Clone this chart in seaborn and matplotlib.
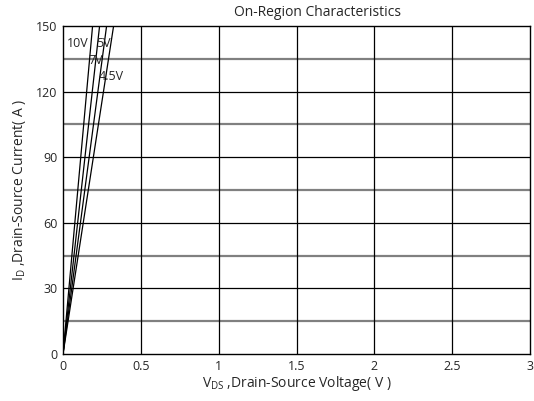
import matplotlib
matplotlib.use("Agg")
import matplotlib.pyplot as plt
import numpy as np
import pandas as pd
import seaborn as sns

# curve data (V_DS in volts, I_D in amps)
gate_labels = ['10V', '7V', '5V', '4.5V']
vds_top = [0.19, 0.235, 0.28, 0.325]
id_points = [0, 150]

# where the curve labels sit
label_x = [0.096, 0.21, 0.26, 0.31]
label_y = [142, 134, 142, 127]

x_ticks = [0, 0.5, 1, 1.5, 2, 2.5, 3]
x_tick_labels = ['0', '0.5', '1', '1.5', '2', '2.5', '3']
y_ticks = [0, 30, 60, 90, 120, 150]

rows = []
for g, xt in zip(gate_labels, vds_top):
    rows.append({'gate': g, 'vds': 0.0, 'id': id_points[0]})
    rows.append({'gate': g, 'vds': xt, 'id': id_points[1]})
df = pd.DataFrame(rows)

sns.set_style('white')
plt.rcParams['font.family'] = ['Open Sans', 'DejaVu Sans']
plt.rcParams['mathtext.default'] = 'regular'

fig = plt.figure(figsize=(5.34, 4.01), dpi=100)
ax = fig.add_axes([63 / 534, 1 - 354 / 401, 467 / 534, 328 / 401])

# grid: black major, gray minor on y
for yv in np.arange(15, 150, 30):
    ax.axhline(yv, color='#808080', lw=1.6, zorder=1)
for yv in y_ticks[1:-1]:
    ax.axhline(yv, color='black', lw=0.9, zorder=1)
for xv in x_ticks[1:-1]:
    ax.axvline(xv, color='black', lw=0.9, zorder=1)

sns.lineplot(data=df, x='vds', y='id', units='gate', estimator=None,
             color='black', lw=0.9, ax=ax, zorder=3)

for t, lx, ly in zip(gate_labels, label_x, label_y):
    ax.text(lx, ly, t, ha='center', va='center', fontsize=9, zorder=4)

ax.set_xlim(0, 3)
ax.set_ylim(0, 150)
ax.set_xticks(x_ticks)
ax.set_xticklabels(x_tick_labels)
ax.set_yticks(y_ticks)
ax.tick_params(axis='both', length=0, labelsize=9, pad=4)
for s in ax.spines.values():
    s.set_color('black')
    s.set_linewidth(1.0)

ax.set_xlabel('V$_{DS}$ ,Drain-Source Voltage( V )', fontsize=10, labelpad=1)
ax.set_ylabel('I$_{D}$ ,Drain-Source Current( A )', fontsize=10, labelpad=6)
fig.text(317 / 534, 1 - 13 / 401, 'On-Region Characteristics',
         ha='center', va='center', fontsize=10)

fig.savefig('out.png', dpi=100)
